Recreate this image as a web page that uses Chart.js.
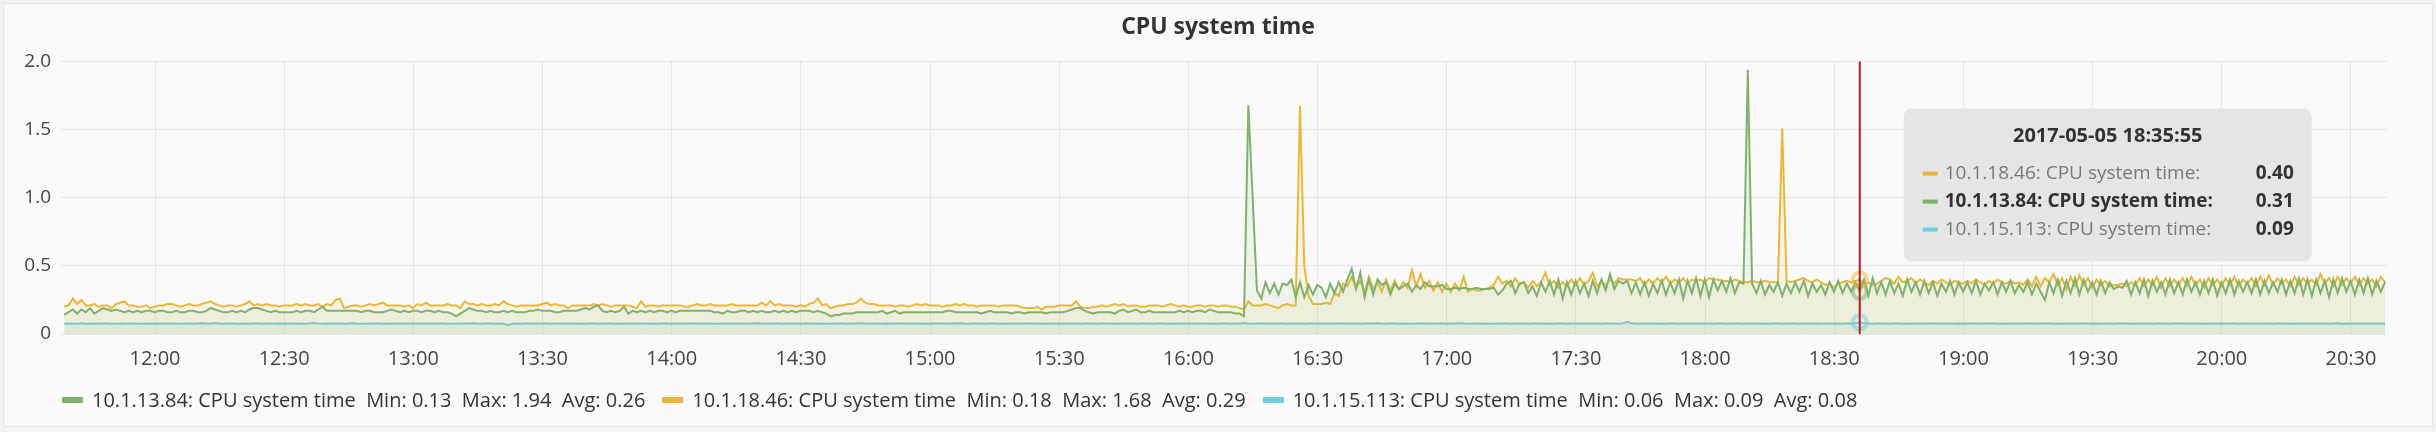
<!DOCTYPE html>
<html>
<head>
<meta charset="utf-8">
<title>CPU system time</title>
<script src="https://cdn.jsdelivr.net/npm/chart.js@4.4.1/dist/chart.umd.min.js"></script>
<style>
  html, body { margin: 0; padding: 0; background: #f4f4f4; }
  #panel { position: absolute; left: 3px; top: 3px; width: 2430px; height: 424px; box-sizing: border-box;
           background: #fafafa; border: 1px solid #e6e6e6; }
  #wrap { position: absolute; left: 0; top: 0; width: 2436px; height: 432px; }
  #legend { position: absolute; left: 62px; top: 388px; display: flex; font-family: 'Open Sans', sans-serif;
            font-size: 20px; line-height: 24px; color: #333; white-space: pre; }
  .item { display: flex; align-items: center; margin-right: 17px; }
  .dash { width: 21px; height: 6px; margin-right: 9px; border-radius: 1px; }
</style>
</head>
<body>
<div id="panel"></div>
<div id="wrap"><canvas id="cpuChart" width="2436" height="432"></canvas></div>
<div id="legend"></div>
<script>
// series
const seriesNames = ['10.1.13.84: CPU system time', '10.1.18.46: CPU system time', '10.1.15.113: CPU system time'];
const seriesColors = ['#7EB26D', '#EAB839', '#6ED0E0'];

// one point per minute, first at startTime
const startTime = '11:38:55';
const stepMinutes = 1;
const xRange = ['11:38:10', '20:38:22'];
const tickLabels = ['12:00', '12:30', '13:00', '13:30', '14:00', '14:30', '15:00', '15:30', '16:00',
  '16:30', '17:00', '17:30', '18:00', '18:30', '19:00', '19:30', '20:00', '20:30'];
const yTicks = [0, 0.5, 1.0, 1.5, 2.0];

const hoverDate = '2017-05-05';
const hoverTime = '18:35:55';
const hoverSeries = 0;

const green = [
  0.14,0.16,0.18,0.15,0.18,0.16,0.19,0.15,0.17,0.19,0.18,0.17,0.18,0.17,0.16,0.17,0.16,0.17,0.16,0.17,0.17,0.16,
  0.17,0.17,0.16,0.16,0.17,0.16,0.16,0.17,0.17,0.16,0.16,0.17,0.19,0.18,0.17,0.16,0.16,0.17,0.16,0.17,0.16,0.18,0.19,0.19,0.18,0.17,0.16,0.17,0.16,0.16,
  0.16,0.16,0.17,0.16,0.17,0.17,0.16,0.18,0.20,0.17,0.17,0.17,0.17,0.17,0.17,0.17,0.17,0.16,0.17,0.17,0.16,0.16,0.16,0.17,0.18,0.17,0.16,0.17,0.16,0.17,
  0.17,0.16,0.17,0.17,0.16,0.17,0.16,0.16,0.15,0.13,0.15,0.17,0.19,0.18,0.17,0.17,0.16,0.17,0.16,0.16,0.17,0.16,0.17,0.16,0.16,0.16,0.17,0.17,0.18,0.17,
  0.17,0.17,0.16,0.16,0.17,0.17,0.17,0.17,0.18,0.19,0.18,0.20,0.21,0.17,0.16,0.17,0.16,0.17,0.20,0.15,0.17,0.16,0.17,0.16,0.17,0.16,0.17,0.17,0.16,0.17,
  0.16,0.17,0.17,0.17,0.17,0.17,0.17,0.17,0.17,0.16,0.16,0.15,0.17,0.16,0.16,0.17,0.17,0.16,0.17,0.16,0.17,0.16,0.16,0.17,0.16,0.17,0.16,0.17,0.16,0.17,
  0.17,0.17,0.16,0.17,0.16,0.15,0.13,0.14,0.14,0.15,0.15,0.15,0.16,0.16,0.16,0.16,0.16,0.16,0.17,0.15,0.16,0.17,0.15,0.16,0.16,0.16,0.16,0.16,0.16,0.16,
  0.16,0.16,0.16,0.17,0.17,0.16,0.16,0.16,0.16,0.16,0.16,0.15,0.16,0.17,0.16,0.16,0.16,0.16,0.15,0.16,0.16,0.15,0.16,0.16,0.16,0.16,0.15,0.16,0.16,0.16,
  0.16,0.17,0.18,0.19,0.19,0.17,0.16,0.15,0.16,0.16,0.16,0.16,0.15,0.17,0.18,0.16,0.17,0.18,0.16,0.16,0.17,0.16,0.16,0.16,0.16,0.16,0.16,0.17,0.16,0.17,
  0.16,0.17,0.17,0.16,0.18,0.17,0.16,0.16,0.16,0.16,0.15,0.15,0.13,1.68,1.00,0.32,0.26,0.38,0.30,0.37,0.29,0.37,0.36,0.40,0.27,0.38,0.27,0.36,0.29,0.36,
  0.34,0.27,0.37,0.30,0.38,0.31,0.40,0.48,0.33,0.45,0.27,0.40,0.29,0.40,0.36,0.38,0.29,0.37,0.33,0.35,0.37,0.31,0.36,0.33,0.38,0.35,0.35,0.35,0.36,0.33,
  0.33,0.34,0.33,0.34,0.33,0.33,0.34,0.33,0.33,0.33,0.34,0.29,0.32,0.37,0.39,0.30,0.37,0.38,0.30,0.35,0.28,0.38,0.31,0.39,0.29,0.40,0.26,0.38,0.29,0.39,
  0.30,0.37,0.28,0.39,0.30,0.40,0.32,0.44,0.33,0.39,0.37,0.39,0.30,0.38,0.29,0.38,0.28,0.37,0.30,0.39,0.29,0.38,0.30,0.40,0.26,0.39,0.30,0.41,0.28,0.40,
  0.27,0.40,0.32,0.39,0.31,0.41,0.30,0.38,0.37,1.94,0.37,0.30,0.39,0.29,0.36,0.31,0.38,0.28,0.37,0.30,0.38,0.31,0.39,0.28,0.37,0.31,0.36,0.29,0.38,0.31,
  0.39,0.30,0.37,0.31,0.38,0.31,0.40,0.28,0.41,0.30,0.38,0.29,0.39,0.30,0.37,0.28,0.40,0.31,0.38,0.29,0.39,0.30,0.38,0.28,0.37,0.31,0.39,0.29,0.38,0.31,
  0.38,0.30,0.39,0.29,0.37,0.32,0.38,0.29,0.38,0.31,0.39,0.30,0.36,0.31,0.38,0.29,0.37,0.31,0.25,0.38,0.30,0.40,0.28,0.39,0.30,0.41,0.29,0.40,0.31,0.38,
  0.29,0.39,0.30,0.38,0.33,0.35,0.34,0.39,0.29,0.38,0.30,0.40,0.28,0.39,0.31,0.38,0.29,0.40,0.30,0.38,0.29,0.40,0.31,0.38,0.29,0.39,0.30,0.40,0.28,0.38,
  0.30,0.40,0.29,0.39,0.31,0.38,0.30,0.40,0.29,0.39,0.30,0.38,0.31,0.40,0.29,0.39,0.30,0.41,0.29,0.40,0.28,0.40,0.30,0.39,0.27,0.40,0.30,0.41,0.31,0.39,
  0.29,0.40,0.30,0.41,0.29,0.39,0.31,0.38
];

const orange = [
  0.20,0.21,0.26,0.22,0.25,0.21,0.21,0.22,0.20,0.21,0.21,0.19,0.22,0.23,0.24,0.21,0.21,0.20,0.20,0.21,0.19,0.20,
  0.21,0.21,0.22,0.22,0.21,0.20,0.21,0.22,0.21,0.21,0.22,0.23,0.24,0.22,0.21,0.20,0.21,0.21,0.20,0.21,0.22,0.24,0.21,0.22,0.21,0.22,0.21,0.21,0.20,0.21,
  0.21,0.21,0.22,0.21,0.22,0.21,0.21,0.22,0.20,0.22,0.21,0.25,0.26,0.19,0.20,0.21,0.21,0.20,0.21,0.22,0.21,0.22,0.23,0.21,0.21,0.21,0.21,0.20,0.21,0.19,
  0.22,0.21,0.23,0.21,0.21,0.21,0.21,0.22,0.21,0.21,0.19,0.24,0.22,0.22,0.21,0.22,0.21,0.21,0.22,0.21,0.24,0.22,0.21,0.20,0.21,0.21,0.21,0.21,0.21,0.22,
  0.23,0.21,0.22,0.21,0.21,0.19,0.21,0.21,0.21,0.21,0.21,0.22,0.21,0.22,0.21,0.20,0.21,0.21,0.21,0.21,0.20,0.19,0.24,0.20,0.21,0.21,0.20,0.21,0.21,0.21,
  0.21,0.21,0.20,0.20,0.21,0.22,0.21,0.21,0.22,0.21,0.21,0.21,0.21,0.22,0.21,0.21,0.21,0.21,0.21,0.21,0.23,0.21,0.24,0.21,0.22,0.21,0.21,0.21,0.20,0.21,
  0.20,0.22,0.23,0.26,0.21,0.22,0.19,0.20,0.21,0.21,0.22,0.22,0.23,0.26,0.23,0.22,0.22,0.21,0.21,0.21,0.21,0.20,0.21,0.21,0.20,0.21,0.22,0.21,0.22,0.21,
  0.21,0.21,0.20,0.21,0.21,0.22,0.21,0.22,0.21,0.21,0.20,0.21,0.21,0.21,0.21,0.20,0.21,0.21,0.21,0.21,0.20,0.19,0.19,0.19,0.20,0.18,0.20,0.20,0.20,0.21,
  0.21,0.21,0.21,0.24,0.20,0.19,0.19,0.20,0.20,0.21,0.20,0.21,0.22,0.21,0.22,0.20,0.21,0.21,0.20,0.20,0.21,0.21,0.21,0.20,0.21,0.22,0.21,0.20,0.21,0.20,
  0.20,0.21,0.21,0.20,0.21,0.21,0.20,0.21,0.21,0.20,0.20,0.19,0.18,0.24,0.21,0.21,0.21,0.22,0.21,0.20,0.19,0.21,0.22,0.21,0.21,1.68,0.50,0.28,0.22,0.22,
  0.22,0.23,0.22,0.30,0.28,0.37,0.35,0.42,0.34,0.39,0.31,0.42,0.33,0.38,0.31,0.40,0.32,0.39,0.33,0.38,0.34,0.47,0.35,0.44,0.34,0.39,0.32,0.38,0.31,0.37,
  0.31,0.37,0.32,0.42,0.31,0.33,0.32,0.32,0.33,0.34,0.36,0.42,0.37,0.39,0.35,0.41,0.36,0.38,0.34,0.39,0.35,0.38,0.45,0.36,0.39,0.34,0.38,0.35,0.40,0.36,
  0.41,0.36,0.39,0.45,0.35,0.39,0.36,0.40,0.37,0.41,0.40,0.40,0.40,0.39,0.41,0.36,0.40,0.37,0.41,0.38,0.42,0.37,0.40,0.38,0.41,0.37,0.40,0.39,0.40,0.38,
  0.41,0.40,0.40,0.39,0.39,0.38,0.40,0.39,0.38,0.38,0.39,0.38,0.38,0.39,0.38,0.38,0.38,1.51,0.39,0.38,0.39,0.40,0.41,0.39,0.38,0.40,0.38,0.36,0.37,0.34,
  0.37,0.38,0.39,0.38,0.39,0.40,0.37,0.38,0.36,0.37,0.39,0.41,0.40,0.37,0.42,0.38,0.39,0.41,0.37,0.40,0.38,0.36,0.39,0.37,0.40,0.38,0.36,0.39,0.38,0.37,
  0.39,0.37,0.40,0.38,0.36,0.39,0.37,0.40,0.38,0.37,0.39,0.37,0.38,0.36,0.40,0.35,0.42,0.35,0.41,0.38,0.44,0.36,0.41,0.33,0.42,0.35,0.43,0.36,0.41,0.34,
  0.40,0.36,0.39,0.35,0.36,0.36,0.37,0.35,0.38,0.36,0.41,0.35,0.40,0.36,0.42,0.34,0.41,0.35,0.40,0.36,0.41,0.35,0.42,0.36,0.40,0.34,0.41,0.36,0.40,0.35,
  0.41,0.36,0.42,0.35,0.40,0.37,0.41,0.35,0.42,0.36,0.43,0.36,0.41,0.37,0.40,0.35,0.42,0.36,0.41,0.37,0.40,0.36,0.44,0.37,0.41,0.35,0.42,0.36,0.41,0.37,
  0.42,0.36,0.41,0.37,0.40,0.35,0.42,0.38
];

const cyan = [
  0.076,0.077,0.075,0.076,0.078,0.076,0.075,0.077,0.076,0.078,0.077,0.076,0.075,0.077,0.076,0.078,0.077,0.076,0.075,0.076,0.077,0.076,
  0.077,0.076,0.078,0.077,0.076,0.075,0.077,0.078,0.076,0.077,0.079,0.077,0.076,0.080,0.077,0.076,0.078,0.077,0.076,0.075,0.077,0.076,0.078,0.077,0.076,0.077,0.078,0.076,0.077,0.076,
  0.077,0.078,0.076,0.077,0.076,0.078,0.080,0.077,0.076,0.077,0.076,0.078,0.077,0.076,0.077,0.079,0.077,0.076,0.075,0.077,0.078,0.077,0.076,0.077,0.076,0.078,0.077,0.076,0.077,0.078,
  0.077,0.076,0.078,0.077,0.076,0.077,0.078,0.076,0.075,0.077,0.076,0.078,0.077,0.079,0.077,0.076,0.077,0.078,0.076,0.077,0.076,0.064,0.075,0.077,0.076,0.078,0.077,0.076,0.077,0.078,
  0.077,0.076,0.078,0.077,0.076,0.077,0.078,0.076,0.077,0.076,0.078,0.077,0.076,0.077,0.078,0.077,0.076,0.077,0.076,0.078,0.077,0.076,0.077,0.078,0.076,0.077,0.076,0.078,0.077,0.076,
  0.078,0.077,0.076,0.077,0.078,0.077,0.076,0.078,0.077,0.076,0.075,0.077,0.078,0.077,0.076,0.077,0.078,0.076,0.077,0.079,0.077,0.076,0.077,0.078,0.077,0.076,0.077,0.078,0.077,0.076,
  0.077,0.078,0.077,0.076,0.077,0.075,0.076,0.077,0.078,0.077,0.076,0.077,0.078,0.079,0.077,0.076,0.077,0.078,0.076,0.077,0.076,0.077,0.078,0.077,0.076,0.077,0.078,0.076,0.077,0.076,
  0.077,0.078,0.077,0.076,0.077,0.078,0.079,0.077,0.076,0.077,0.078,0.077,0.076,0.077,0.078,0.076,0.077,0.076,0.078,0.077,0.076,0.077,0.078,0.077,0.076,0.077,0.076,0.078,0.077,0.076,
  0.077,0.076,0.078,0.077,0.076,0.077,0.078,0.077,0.076,0.077,0.078,0.077,0.076,0.077,0.076,0.078,0.077,0.076,0.077,0.078,0.077,0.076,0.077,0.078,0.076,0.077,0.076,0.077,0.078,0.077,
  0.077,0.076,0.077,0.078,0.076,0.077,0.076,0.078,0.077,0.076,0.077,0.078,0.080,0.075,0.076,0.077,0.078,0.077,0.076,0.077,0.078,0.077,0.076,0.077,0.078,0.077,0.076,0.077,0.078,0.076,
  0.077,0.078,0.076,0.077,0.078,0.077,0.076,0.078,0.077,0.076,0.077,0.078,0.077,0.079,0.077,0.076,0.077,0.078,0.076,0.077,0.076,0.075,0.077,0.078,0.077,0.076,0.077,0.078,0.077,0.076,
  0.077,0.078,0.079,0.077,0.076,0.077,0.078,0.076,0.077,0.076,0.075,0.077,0.078,0.077,0.076,0.077,0.078,0.077,0.076,0.077,0.078,0.077,0.076,0.077,0.076,0.078,0.077,0.076,0.077,0.078,
  0.077,0.076,0.077,0.078,0.077,0.076,0.077,0.078,0.077,0.076,0.078,0.090,0.078,0.077,0.076,0.077,0.078,0.077,0.076,0.077,0.076,0.078,0.077,0.076,0.077,0.078,0.077,0.076,0.077,0.078,
  0.077,0.076,0.078,0.077,0.076,0.077,0.078,0.077,0.076,0.077,0.078,0.077,0.076,0.077,0.076,0.078,0.077,0.076,0.077,0.078,0.077,0.076,0.077,0.078,0.076,0.077,0.076,0.078,0.077,0.076,
  0.077,0.076,0.078,0.077,0.079,0.086,0.078,0.077,0.076,0.077,0.078,0.077,0.076,0.077,0.078,0.076,0.077,0.076,0.078,0.077,0.076,0.077,0.078,0.077,0.076,0.077,0.078,0.076,0.077,0.076,
  0.077,0.078,0.077,0.076,0.077,0.078,0.077,0.076,0.077,0.076,0.078,0.077,0.076,0.077,0.078,0.077,0.076,0.077,0.078,0.077,0.076,0.077,0.076,0.078,0.077,0.076,0.077,0.078,0.077,0.076,
  0.077,0.076,0.078,0.077,0.076,0.077,0.078,0.077,0.076,0.077,0.076,0.078,0.077,0.076,0.077,0.078,0.077,0.076,0.077,0.078,0.077,0.076,0.077,0.078,0.076,0.077,0.076,0.078,0.077,0.076,
  0.077,0.078,0.077,0.076,0.077,0.078,0.076,0.077,0.076,0.078,0.077,0.076,0.077,0.078,0.077,0.076,0.077,0.076,0.078,0.077,0.076,0.077,0.078,0.077,0.076,0.077,0.078,0.073,0.077,0.076,
  0.077,0.078,0.077,0.076,0.077,0.078,0.077,0.076
];

const seriesValues = [green, orange, cyan];

function toMin(s) {
  const p = s.split(':').map(Number);
  return p[0] * 60 + p[1] + (p[2] || 0) / 60;
}
function rgba(hex, a) {
  const n = parseInt(hex.slice(1), 16);
  return `rgba(${(n >> 16) & 255},${(n >> 8) & 255},${n & 255},${a})`;
}

const t0 = toMin(startTime);
const hoverIndex = Math.round((toMin(hoverTime) - t0) / stepMinutes);
const FONT = "'Open Sans', sans-serif";

Chart.defaults.font.family = FONT;
Chart.defaults.font.size = 19;
Chart.defaults.color = '#464646';

const datasets = seriesValues.map((vals, i) => ({
  label: seriesNames[i],
  data: vals.map((v, k) => ({ x: t0 + k * stepMinutes, y: v })),
  borderColor: seriesColors[i],
  backgroundColor: rgba(seriesColors[i], 0.1),
  borderWidth: 2,
  pointRadius: 0,
  pointHoverRadius: 0,
  tension: 0,
  fill: 'origin'
}));

const hoverPlugin = {
  id: 'hoverMarks',
  afterDatasetsDraw(chart) {
    const ctx = chart.ctx;
    const area = chart.chartArea;
    const hx = chart.scales.x.getPixelForValue(toMin(hoverTime));
    ctx.save();
    chart.data.datasets.forEach((ds, i) => {
      const el = chart.getDatasetMeta(i).data[hoverIndex];
      ctx.beginPath();
      ctx.arc(el.x, el.y, 7, 0, Math.PI * 2);
      ctx.lineWidth = 4;
      ctx.strokeStyle = rgba(seriesColors[i], 0.5);
      ctx.stroke();
    });
    ctx.beginPath();
    ctx.moveTo(hx, area.top);
    ctx.lineTo(hx, area.bottom);
    ctx.lineWidth = 2;
    ctx.strokeStyle = '#b01c25';
    ctx.stroke();
    ctx.restore();
  },
  afterDraw(chart) {
    const ctx = chart.ctx;
    const area = chart.chartArea;
    const hx = chart.scales.x.getPixelForValue(toMin(hoverTime));
    const bx = hx + 44, by = area.top + 47, bw = 408, bh = 153;
    ctx.save();
    ctx.fillStyle = '#e5e5e5';
    ctx.beginPath();
    ctx.roundRect(bx, by, bw, bh, 8);
    ctx.fill();

    ctx.fillStyle = '#333';
    ctx.font = `bold 20px ${FONT}`;
    ctx.textAlign = 'center';
    ctx.textBaseline = 'middle';
    ctx.fillText(`${hoverDate} ${hoverTime}`, bx + bw / 2, by + 28);

    const rows = seriesValues.map((vals, i) => ({ i, v: vals[hoverIndex] }))
      .sort((a, b) => b.v - a.v);
    rows.forEach((r, n) => {
      const y = by + 65 + n * 28;
      ctx.fillStyle = seriesColors[r.i];
      ctx.fillRect(bx + 19, y - 2, 15, 4);
      const hot = r.i === hoverSeries;
      ctx.textAlign = 'left';
      ctx.font = `${hot ? 'bold ' : ''}19px ${FONT}`;
      ctx.fillStyle = hot ? '#333' : '#7a7a7a';
      ctx.fillText(`${seriesNames[r.i]}:`, bx + 41, y);
      ctx.textAlign = 'right';
      ctx.font = `bold 19px ${FONT}`;
      ctx.fillStyle = '#333';
      ctx.fillText(r.v.toFixed(2), bx + bw - 18, y);
    });
    ctx.restore();
  }
};

new Chart(document.getElementById('cpuChart'), {
  type: 'line',
  data: { datasets },
  plugins: [hoverPlugin],
  options: {
    responsive: false,
    animation: false,
    events: [],
    layout: { padding: { top: 0, left: 0, right: 0, bottom: 62 } },
    plugins: {
      legend: { display: false },
      tooltip: { enabled: false },
      title: {
        display: true,
        text: 'CPU system time',
        color: '#333',
        font: { size: 23, weight: 'bold' },
        padding: { top: 14, bottom: 20 }
      }
    },
    scales: {
      x: {
        type: 'linear',
        min: toMin(xRange[0]),
        max: toMin(xRange[1]),
        afterBuildTicks: (s) => { s.ticks = tickLabels.map(l => ({ value: toMin(l) })); },
        afterFit: (s) => { s.height = 36; },
        ticks: { autoSkip: false, maxRotation: 0, padding: 13, font: { size: 20 }, callback: (v, i) => tickLabels[i] },
        grid: { color: '#e6e6e6', drawTicks: false },
        border: { display: false }
      },
      y: {
        min: yTicks[0],
        max: yTicks[yTicks.length - 1],
        afterBuildTicks: (s) => { s.ticks = yTicks.map(v => ({ value: v })); },
        afterFit: (s) => { s.width = 61; },
        ticks: { padding: 10, callback: (v) => v === 0 ? '0' : v.toFixed(1) },
        grid: { color: '#e6e6e6', drawTicks: false },
        border: { display: false }
      },
      // empty right gutter so the title stays centred on the whole panel
      gutter: {
        type: 'linear',
        position: 'right',
        afterFit: (s) => { s.width = 49; },
        ticks: { display: false },
        grid: { display: false },
        border: { display: false }
      }
    }
  }
});

// legend with min / max / avg of each series
const legend = document.getElementById('legend');
seriesValues.forEach((vals, i) => {
  const min = Math.min(...vals), max = Math.max(...vals);
  const avg = vals.reduce((a, b) => a + b, 0) / vals.length;
  const item = document.createElement('div');
  item.className = 'item';
  item.innerHTML = `<span class="dash" style="background:${seriesColors[i]}"></span>` +
    `<span>${seriesNames[i]}  Min: ${min.toFixed(2)}  Max: ${max.toFixed(2)}  Avg: ${avg.toFixed(2)}</span>`;
  legend.appendChild(item);
});
</script>
</body>
</html>
